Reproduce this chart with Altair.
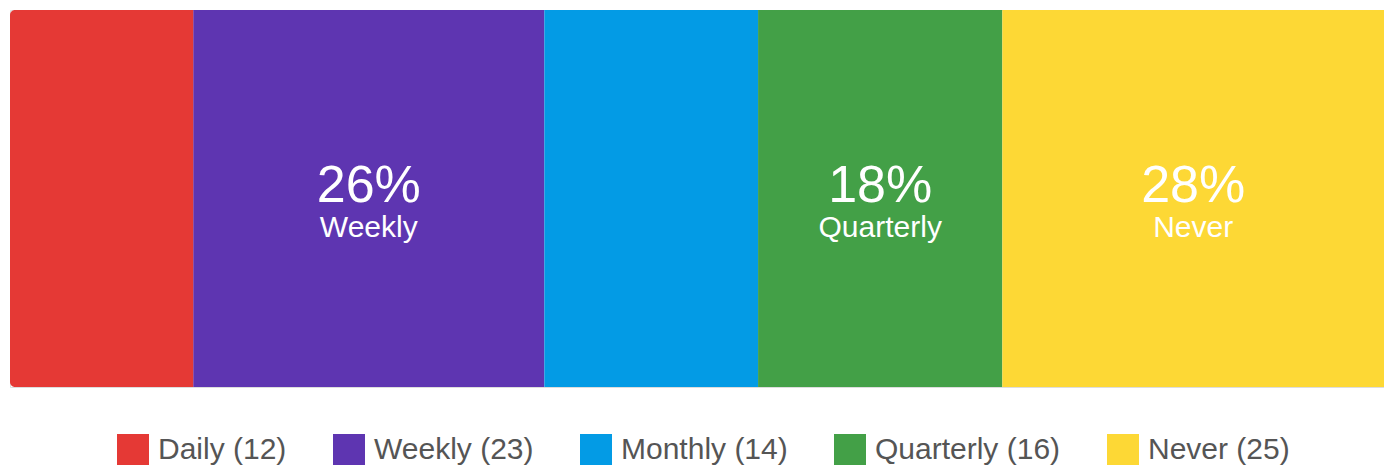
import altair as alt
import pandas as pd

categories = ["Daily", "Weekly", "Monthly", "Quarterly", "Never"]
counts = [12, 23, 14, 16, 25]
colors = ["#E53935", "#5E35B1", "#039BE5", "#43A047", "#FDD835"]
labeled = ["Weekly", "Quarterly", "Never"]

total = sum(counts)
df = pd.DataFrame({"category": categories, "count": counts})
df["legend"] = [f"{c} ({n})" for c, n in zip(categories, counts)]
df["end"] = df["count"].cumsum()
df["start"] = df["end"] - df["count"]
df["mid"] = (df["start"] + df["end"]) / 2
df["pct"] = [f"{round(n / total * 100)}%" for n in counts]
df["row"] = "all"
df["first"] = [i == 0 for i in range(len(df))]

legend_domain = list(df["legend"])

xs = alt.Scale(domain=[0, total], nice=False, zero=True)
ys = alt.Scale(paddingInner=0, paddingOuter=0)
color = alt.Color(
    "legend:N",
    scale=alt.Scale(domain=legend_domain, range=colors),
    sort=legend_domain,
    legend=alt.Legend(
        title=None,
        orient="none",
        direction="horizontal",
        legendX=107,
        legendY=424,
        symbolType="square",
        symbolSize=1024,
        symbolStrokeWidth=0,
        symbolOpacity=1,
        labelFontSize=30,
        labelFont="Liberation Sans",
        labelColor="#555555",
        labelOffset=9,
        columnPadding=46,
        labelLimit=400,
    ),
)

base = alt.Chart(df)

bars_rest = base.transform_filter("!datum.first").mark_bar(stroke=None).encode(
    x=alt.X("start:Q", scale=xs, axis=None),
    x2="end:Q",
    y=alt.Y("row:N", scale=ys, axis=None),
    color=color,
)
bar_first = base.transform_filter("datum.first").mark_bar(
    cornerRadiusTopLeft=5, cornerRadiusBottomLeft=5, stroke=None
).encode(
    x=alt.X("start:Q", scale=xs, axis=None),
    x2="end:Q",
    y=alt.Y("row:N", scale=ys, axis=None),
    color=color,
)

lab = base.transform_filter(alt.FieldOneOfPredicate(field="category", oneOf=labeled))

pct_text = lab.mark_text(
    font="Liberation Sans", fontSize=52, color="white", baseline="alphabetic", dy=3
).encode(
    x=alt.X("mid:Q", scale=xs, axis=None),
    y=alt.Y("row:N", scale=ys, axis=None),
    text="pct:N",
)
name_text = lab.mark_text(
    font="Liberation Sans", fontSize=30, color="white", baseline="alphabetic", dy=38
).encode(
    x=alt.X("mid:Q", scale=xs, axis=None),
    y=alt.Y("row:N", scale=ys, axis=None),
    text="category:N",
)

chart = (
    alt.layer(bars_rest, bar_first, pct_text, name_text)
    .properties(
        width=1374,
        height=377,
        padding={"left": 2, "top": 2, "right": 0, "bottom": 0},
    )
    .configure_view(stroke=None)
    .configure(background="white")
)

chart.save("out.html", embed_options={"renderer": "svg", "actions": False})
